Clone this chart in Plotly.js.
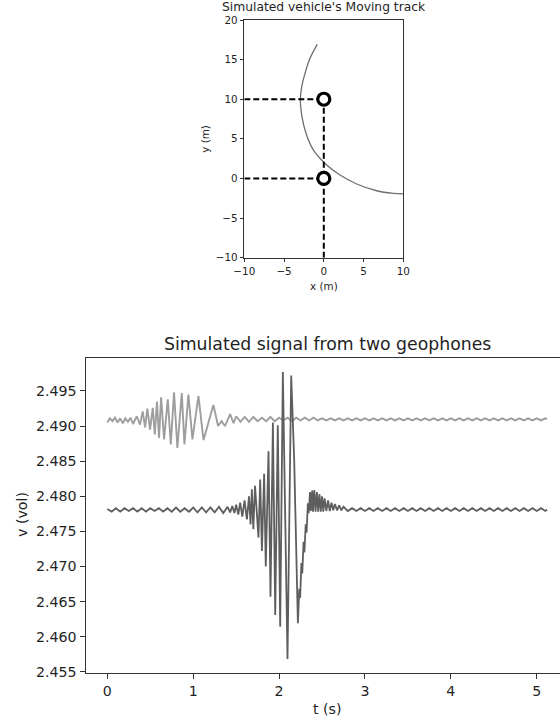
<!DOCTYPE html>
<html>
<head>
<meta charset="utf-8">
<script src="https://cdn.plot.ly/plotly-3.0.1.min.js"></script>
<style>
html,body{margin:0;padding:0;overflow:hidden;background:#fff;}
#chart{width:572px;height:719px;}
</style>
</head>
<body>
<div id="chart"></div>
<script>
// ---- Top chart: vehicle track and geophone positions ----
const TRACK_X = [-0.82,-1.74,-2.36,-2.78,-2.95,-2.78,-2.24,-1.32,0.15,2.04,4.14,6.65,8.74,10];
const TRACK_Y = [16.93,15.16,13.27,11.58,9.9,8.0,5.7,3.6,1.9,0.43,-0.7,-1.55,-1.88,-1.95];
const SENSOR_X = [0, 0];
const SENSOR_Y = [10, 0];
const TRACK_XLIM = [-10, 10];
const TRACK_YLIM = [-10, 20];
const TRACK_XTICKS = [-10, -5, 0, 5, 10];
const TRACK_YTICKS = [-10, -5, 0, 5, 10, 15, 20];

// ---- Bottom chart: geophone signals ----
const T1 = [0,0.03,0.06,0.09,0.12,0.15,0.18,0.21,0.24,0.27,0.30,
  0.343,0.381,0.412,0.440,0.466,0.498,0.529,0.553,0.578,0.602,
  0.626,0.661,0.704,0.739,0.777,0.816,0.867,0.898,0.944,0.991,
  1.061,1.12,1.235,1.29,1.33,1.37,1.43,1.47,
  1.5,1.55,1.6,1.65,1.7,1.75,1.8,1.85,1.9,1.95,
  2,2.05,2.1,2.15,2.2,2.25,2.3,2.35,2.4,2.45,
  2.5,2.55,2.6,2.65,2.7,2.75,2.8,2.85,2.9,2.95,
  3,3.05,3.1,3.15,3.2,3.25,3.3,3.35,3.4,3.45,
  3.5,3.55,3.6,3.65,3.7,3.75,3.8,3.85,3.9,3.95,
  4,4.05,4.1,4.15,4.2,4.25,4.3,4.35,4.4,4.45,
  4.5,4.55,4.6,4.65,4.7,4.75,4.8,4.85,4.9,4.95,
  5,5.05,5.1,5.12];
const V1 = [2.4905,2.4911,2.4907,2.4912,2.4905,2.4911,2.4904,2.4911,2.4906,2.4912,2.4903,
  2.4914,2.4902,2.4921,2.4898,2.4925,2.4895,2.4926,2.4888,2.4935,2.4883,
  2.4941,2.4881,2.4938,2.4874,2.4948,2.4869,2.4947,2.4874,2.4945,2.4881,
  2.4943,2.4880,2.4930,2.4900,2.4907,2.4900,2.4917,2.4904,
  2.4914,2.4906,2.4913,2.4906,2.4913,2.4907,2.4912,2.4907,2.4913,2.4907,
  2.4912,2.4908,2.4912,2.4907,2.4912,2.4908,2.4912,2.4908,2.4912,2.4908,
  2.4911,2.4908,2.4911,2.4908,2.4911,2.4908,2.4911,2.4908,2.4911,2.4908,
  2.4911,2.4908,2.4911,2.4908,2.4911,2.4908,2.4911,2.4908,2.4911,2.4908,
  2.4911,2.4908,2.4911,2.4908,2.4911,2.4908,2.4911,2.4908,2.4911,2.4908,
  2.4911,2.4908,2.4911,2.4908,2.4911,2.4908,2.4911,2.4908,2.4911,2.4908,
  2.4911,2.4908,2.4911,2.4908,2.4911,2.4908,2.4911,2.4908,2.4911,2.4908,
  2.4911,2.4908,2.4911,2.4910];

const T2 = [0,0.05,0.1,0.15,0.2,0.25,0.3,0.35,0.4,0.45,
  0.5,0.55,0.6,0.65,0.7,0.75,0.8,0.85,0.9,0.95,
  1,1.05,1.1,1.15,1.2,1.25,1.3,1.35,1.4,
  1.43,1.455,1.48,1.50,1.525,1.547,1.572,1.598,1.625,1.65,
  1.668,1.683,1.70,1.72,1.76,1.78,1.80,1.826,1.845,1.877,
  1.90,1.928,1.955,1.985,2.013,2.044,2.098,2.141,2.176,2.219,
  2.235,2.245,2.26,2.27,2.285,2.295,2.31,2.32,2.335,2.345,
  2.36,2.37,2.385,2.395,2.41,2.425,2.44,2.455,2.47,2.485,
  2.50,2.515,2.53,2.55,2.57,2.59,2.61,2.63,2.65,2.675,
  2.70,2.725,2.75,
  2.8,2.85,2.9,2.95,3,3.05,3.1,3.15,3.2,3.25,
  3.3,3.35,3.4,3.45,3.5,3.55,3.6,3.65,3.7,3.75,
  3.8,3.85,3.9,3.95,4,4.05,4.1,4.15,4.2,4.25,
  4.3,4.35,4.4,4.45,4.5,4.55,4.6,4.65,4.7,4.75,
  4.8,4.85,4.9,4.95,5,5.05,5.1,5.12];
const V2 = [2.4782,2.4778,2.4783,2.4778,2.4783,2.4779,2.4783,2.4778,2.4783,2.4778,
  2.4783,2.4779,2.4783,2.4778,2.4783,2.4778,2.4784,2.4778,2.4783,2.4778,
  2.4784,2.4777,2.4784,2.4777,2.4784,2.4777,2.4785,2.4776,2.4785,
  2.4777,2.4786,2.4776,2.4788,2.4774,2.4791,2.4771,2.4794,2.4767,2.4800,
  2.4760,2.4810,2.4753,2.4815,2.4741,2.4824,2.4722,2.4832,2.4700,2.4864,
  2.4657,2.4905,2.4631,2.4901,2.4614,2.4977,2.4568,2.4972,2.4852,2.4619,
  2.4668,2.4655,2.4705,2.4690,2.4735,2.4720,2.4760,2.4748,2.4790,2.4776,
  2.4806,2.4779,2.4808,2.4778,2.4809,2.4778,2.4806,2.4778,2.4803,2.4778,
  2.4800,2.4778,2.4797,2.4779,2.4794,2.4779,2.4791,2.4780,2.4789,2.4780,
  2.4787,2.4780,2.4785,
  2.4779,2.4783,2.4779,2.4783,2.4779,2.4783,2.4779,2.4783,2.4779,2.4783,
  2.4779,2.4783,2.4779,2.4783,2.4779,2.4783,2.4779,2.4783,2.4779,2.4783,
  2.4779,2.4783,2.4779,2.4783,2.4779,2.4783,2.4779,2.4783,2.4779,2.4783,
  2.4779,2.4783,2.4779,2.4783,2.4779,2.4783,2.4779,2.4783,2.4779,2.4783,
  2.4779,2.4783,2.4779,2.4783,2.4779,2.4783,2.4779,2.4781];
const SIG_XTICKS = [0, 1, 2, 3, 4, 5];
const SIG_YTICKS = [2.455, 2.460, 2.465, 2.470, 2.475, 2.480, 2.485, 2.490, 2.495];

const W = 572, H = 719;
const FONT = 'DejaVu Sans, Liberation Sans, sans-serif';
const TXT = '#1f1f1f';
const AX = '#333333';

const dashStyle = {color: '#000', width: 2, dash: '6px,3px'};
const traces = [
  {x: TRACK_X, y: TRACK_Y, xaxis: 'x', yaxis: 'y', mode: 'lines', line: {color: '#6e6e6e', width: 1.3, shape: 'spline'}, hoverinfo: 'skip'},
  // guide lines from the sensors to the axes
  {x: [TRACK_XLIM[0], SENSOR_X[0]], y: [SENSOR_Y[0], SENSOR_Y[0]], xaxis: 'x', yaxis: 'y', mode: 'lines', line: dashStyle},
  {x: [TRACK_XLIM[0], SENSOR_X[1]], y: [SENSOR_Y[1], SENSOR_Y[1]], xaxis: 'x', yaxis: 'y', mode: 'lines', line: dashStyle},
  {x: [SENSOR_X[0], SENSOR_X[0]], y: [TRACK_YLIM[0], SENSOR_Y[0]], xaxis: 'x', yaxis: 'y', mode: 'lines', line: dashStyle},
  {x: SENSOR_X, y: SENSOR_Y, xaxis: 'x', yaxis: 'y', mode: 'markers',
   marker: {symbol: 'circle', size: 12, color: '#fff', line: {color: '#000', width: 3.2}}},
  {x: T1, y: V1, xaxis: 'x2', yaxis: 'y2', mode: 'lines', line: {color: '#9e9e9e', width: 1.9}},
  {x: T2, y: V2, xaxis: 'x2', yaxis: 'y2', mode: 'lines', line: {color: '#5e5e5e', width: 1.8}}
];

function axisBase(fs, tl) {
  return {showgrid: false, zeroline: false, showline: true, mirror: true,
    linecolor: AX, linewidth: 1, ticks: 'outside', ticklen: tl, tickwidth: 1,
    tickcolor: AX, tickfont: {family: FONT, size: fs, color: TXT}, automargin: false,
    fixedrange: true};
}

const layout = {
  width: W, height: H,
  margin: {l: 0, r: 0, t: 0, b: 0},
  paper_bgcolor: '#fff', plot_bgcolor: '#fff',
  showlegend: false,
  xaxis: Object.assign(axisBase(10.4, 3.6), {
    domain: [244.3 / W, 403.3 / W], range: TRACK_XLIM, tickvals: TRACK_XTICKS, anchor: 'y'}),
  yaxis: Object.assign(axisBase(10.4, 3.6), {
    domain: [(H - 257.7) / H, (H - 20) / H], range: TRACK_YLIM, tickvals: TRACK_YTICKS, anchor: 'x'}),
  xaxis2: Object.assign(axisBase(14.2, 5), {
    domain: [85.5 / W, 568.6 / W], range: [-0.254, 5.371], tickvals: SIG_XTICKS, anchor: 'y2'}),
  yaxis2: Object.assign(axisBase(14.2, 5), {
    domain: [(H - 672.7) / H, (H - 358) / H], range: [2.45486, 2.49970], tickvals: SIG_YTICKS,
    tickformat: '.3f', anchor: 'x2'}),
  annotations: [
    {text: "Simulated vehicle's Moving track", xref: 'paper', yref: 'paper',
     x: 323.8 / W, y: (H - 6.5) / H, xanchor: 'center', yanchor: 'middle', showarrow: false,
     borderpad: 0, font: {family: FONT, size: 12.3, color: TXT}},
    {text: 'x (m)', xref: 'paper', yref: 'paper', x: 323.8 / W, y: (H - 286) / H,
     xanchor: 'center', yanchor: 'middle', showarrow: false, font: {family: FONT, size: 10.4, color: TXT}},
    {text: 'y (m)', xref: 'paper', yref: 'paper', x: 205 / W, y: (H - 138.8) / H, textangle: -90,
     xanchor: 'center', yanchor: 'middle', showarrow: false, font: {family: FONT, size: 10.4, color: TXT}},
    {text: 'Simulated signal from two geophones', xref: 'paper', yref: 'paper',
     x: 327 / W, y: (H - 344) / H, xanchor: 'center', yanchor: 'middle', showarrow: false,
     font: {family: FONT, size: 17.3, color: TXT}},
    {text: 't (s)', xref: 'paper', yref: 'paper', x: 327 / W, y: (H - 709) / H,
     xanchor: 'center', yanchor: 'middle', showarrow: false, font: {family: FONT, size: 14.2, color: TXT}},
    {text: 'v (vol)', xref: 'paper', yref: 'paper', x: 22 / W, y: (H - 515) / H, textangle: -90,
     xanchor: 'center', yanchor: 'middle', showarrow: false, font: {family: FONT, size: 14.2, color: TXT}}
  ]
};

Plotly.newPlot('chart', traces, layout, {displayModeBar: false, staticPlot: true});
</script>
</body>
</html>
